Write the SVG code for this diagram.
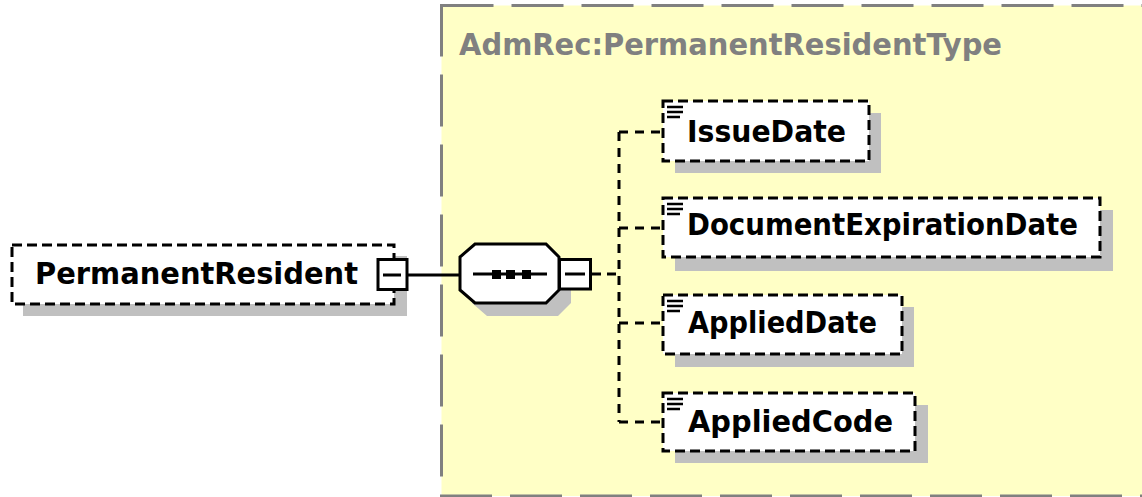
<svg xmlns="http://www.w3.org/2000/svg" width="1142" height="497" viewBox="0 0 1142 497">
<style>
.shadow{fill:#c0c0c0;stroke:none}
.elem{fill:#ffffff;stroke:#000;stroke-width:3;stroke-dasharray:10 5}
.lbl{font-family:"DejaVu Sans","Liberation Sans",sans-serif;font-weight:bold;font-size:30px;fill:#000}
.title{font-family:"DejaVu Sans","Liberation Sans",sans-serif;font-weight:bold;font-size:30px;fill:#808080}
.conn{fill:none;stroke:#000;stroke-width:3;stroke-dasharray:9 7}
.solid{fill:none;stroke:#000;stroke-width:3}
.box{fill:#fff;stroke:#000;stroke-width:3}
.icon{stroke:#000;stroke-width:2.5}
</style>
<rect width="1142" height="497" fill="#ffffff"/>
<g id="type-box">
<rect x="441.5" y="5.5" width="760" height="490.5" fill="#ffffc6" stroke="#808080" stroke-width="3" stroke-dasharray="52 18"/>
<text class="title" x="459" y="55" textLength="543" lengthAdjust="spacingAndGlyphs">AdmRec:PermanentResidentType</text>
</g>
<g id="connectors">
<line class="solid" x1="407" y1="275" x2="460" y2="275"/>
<line class="solid" x1="591" y1="274" x2="601" y2="274"/>
<line class="conn" x1="607" y1="274" x2="620" y2="274"/>
<line class="conn" x1="619" y1="132" x2="619" y2="422"/>
<line class="conn" x1="619" y1="132" x2="663" y2="132"/>
<line class="conn" x1="619" y1="228" x2="663" y2="228"/>
<line class="conn" x1="619" y1="323" x2="663" y2="323"/>
<line class="conn" x1="619" y1="422" x2="663" y2="422"/>
</g>
<g id="PermanentResident">
<rect class="shadow" x="23" y="256" width="384" height="60"/>
<rect class="elem" x="12" y="245" width="382" height="59"/>
<text class="lbl" x="35" y="284" textLength="323" lengthAdjust="spacingAndGlyphs">PermanentResident</text>
<rect class="box" x="378" y="259.5" width="29" height="30"/>
<line class="solid" x1="383" y1="275" x2="401" y2="275"/>
</g>
<g id="sequence">
<polygon class="shadow" transform="translate(12,13)" points="475,244 546,244 559,257 559,290 546,303 475,303 460,290 460,257"/>
<polygon class="box" points="475,244 546,244 559,257 559,290 546,303 475,303 460,290 460,257"/>
<line class="solid" x1="473" y1="274" x2="547" y2="274"/>
<rect x="492" y="270" width="9" height="9" fill="#000"/>
<rect x="506" y="270" width="9" height="9" fill="#000"/>
<rect x="522" y="270" width="9" height="9" fill="#000"/>
<rect class="box" x="559.5" y="259.5" width="31" height="29.5"/>
<line class="solid" x1="565" y1="274" x2="585" y2="274"/>
</g>
<g id="IssueDate">
<rect class="shadow" x="675" y="113" width="206" height="60"/>
<rect class="elem" x="663" y="101" width="206" height="60"/>
<path class="icon" d="M667 107h16M667 112h16M667 117h13"/>
<text class="lbl" x="687" y="142" textLength="159" lengthAdjust="spacingAndGlyphs">IssueDate</text>
</g>
<g id="DocumentExpirationDate">
<rect class="shadow" x="675" y="210" width="438" height="61"/>
<rect class="elem" x="663" y="198" width="437" height="59"/>
<path class="icon" d="M667 204h16M667 209h16M667 214h13"/>
<text class="lbl" x="687" y="235" textLength="391" lengthAdjust="spacingAndGlyphs">DocumentExpirationDate</text>
</g>
<g id="AppliedDate">
<rect class="shadow" x="675" y="307" width="239" height="60"/>
<rect class="elem" x="663" y="295" width="239" height="59"/>
<path class="icon" d="M667 301h16M667 306h16M667 311h13"/>
<text class="lbl" x="688" y="333" textLength="189" lengthAdjust="spacingAndGlyphs">AppliedDate</text>
</g>
<g id="AppliedCode">
<rect class="shadow" x="675" y="405" width="253" height="58"/>
<rect class="elem" x="663" y="393" width="252" height="58"/>
<path class="icon" d="M667 399h16M667 404h16M667 409h13"/>
<text class="lbl" x="688" y="432" textLength="205" lengthAdjust="spacingAndGlyphs">AppliedCode</text>
</g>
</svg>
